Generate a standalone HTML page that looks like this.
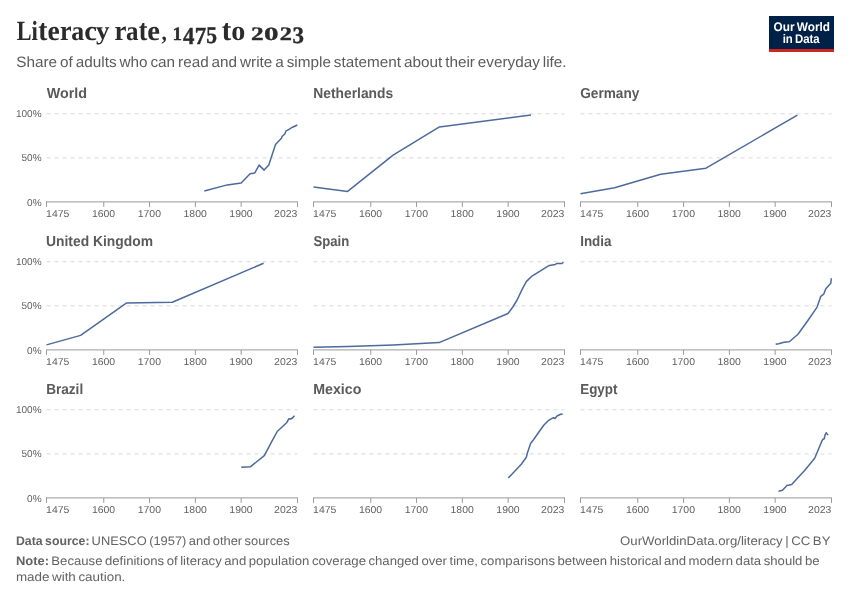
<!DOCTYPE html><html><head><meta charset="utf-8"><title>Literacy rate, 1475 to 2023</title><style>
html,body{margin:0;padding:0;background:#fff;width:850px;height:600px;overflow:hidden}
svg{display:block;will-change:transform}
text{text-rendering:geometricPrecision}
.sans{font-family:"Liberation Sans",sans-serif}
.serif{font-family:"Liberation Serif",serif}
</style></head><body>
<svg width="850" height="600" viewBox="0 0 850 600">
<text class="serif" font-weight="bold" font-size="20.0" fill="#2b2b2b" transform="translate(16.72,40.40) scale(1.1102,1.3893)">L</text>
<text class="serif" font-weight="bold" font-size="20.0" fill="#2b2b2b" transform="translate(31.60,40.40) scale(1.1411,1.3833)">i</text>
<text class="serif" font-weight="bold" font-size="20.0" fill="#2b2b2b" transform="translate(38.36,40.30) scale(1.3738,1.5096)">t</text>
<text class="serif" font-weight="bold" font-size="20.0" fill="#2b2b2b" transform="translate(47.56,40.35) scale(1.3802,1.3987)">e</text>
<text class="serif" font-weight="bold" font-size="20.0" fill="#2b2b2b" transform="translate(59.90,40.35) scale(1.3038,1.4188)">r</text>
<text class="serif" font-weight="bold" font-size="20.0" fill="#2b2b2b" transform="translate(71.37,40.23) scale(1.2914,1.3674)">a</text>
<text class="serif" font-weight="bold" font-size="20.0" fill="#2b2b2b" transform="translate(84.23,40.35) scale(1.4286,1.3958)">c</text>
<text class="serif" font-weight="bold" font-size="20.0" fill="#2b2b2b" transform="translate(96.03,39.00) scale(1.3333,1.2741)">y</text>
<text class="serif" font-weight="bold" font-size="20.0" fill="#2b2b2b" transform="translate(114.48,40.35) scale(1.3418,1.4188)">r</text>
<text class="serif" font-weight="bold" font-size="20.0" fill="#2b2b2b" transform="translate(126.00,40.23) scale(1.2472,1.3674)">a</text>
<text class="serif" font-weight="bold" font-size="20.0" fill="#2b2b2b" transform="translate(138.79,40.30) scale(1.2939,1.5009)">t</text>
<text class="serif" font-weight="bold" font-size="20.0" fill="#2b2b2b" transform="translate(147.33,40.35) scale(1.4323,1.3987)">e</text>
<text class="serif" font-weight="bold" font-size="20.0" fill="#2b2b2b" transform="translate(161.53,40.10) scale(1.0553,1.1921)">,</text>
<text class="serif" font-weight="bold" font-size="20.0" fill="#2b2b2b" transform="translate(221.85,40.30) scale(1.4217,1.5096)">t</text>
<text class="serif" font-weight="bold" font-size="20.0" fill="#2b2b2b" transform="translate(231.23,40.32) scale(1.4033,1.4137)">o</text>
<text class="serif" font-weight="bold" font-size="20.0" fill="#2b2b2b" stroke="#2b2b2b" stroke-width="0.420" stroke-linejoin="round" transform="translate(172.48,40.10) scale(0.9511,0.9545)">1</text>
<text class="serif" font-weight="bold" font-size="20.0" fill="#2b2b2b" stroke="#2b2b2b" stroke-width="0.338" stroke-linejoin="round" transform="translate(182.88,43.60) scale(1.1456,1.2234)">4</text>
<text class="serif" font-weight="bold" font-size="20.0" fill="#2b2b2b" stroke="#2b2b2b" stroke-width="0.337" stroke-linejoin="round" transform="translate(194.79,43.60) scale(1.1456,1.2290)">7</text>
<text class="serif" font-weight="bold" font-size="20.0" fill="#2b2b2b" stroke="#2b2b2b" stroke-width="0.350" stroke-linejoin="round" transform="translate(206.34,43.36) scale(1.0757,1.2105)">5</text>
<text class="serif" font-weight="bold" font-size="20.0" fill="#2b2b2b" stroke="#2b2b2b" stroke-width="0.361" stroke-linejoin="round" transform="translate(251.04,40.10) scale(1.2651,0.9517)">2</text>
<text class="serif" font-weight="bold" font-size="20.0" fill="#2b2b2b" stroke="#2b2b2b" stroke-width="0.336" stroke-linejoin="round" transform="translate(264.00,39.91) scale(1.4505,0.9333)">0</text>
<text class="serif" font-weight="bold" font-size="20.0" fill="#2b2b2b" stroke="#2b2b2b" stroke-width="0.369" stroke-linejoin="round" transform="translate(279.68,40.10) scale(1.2169,0.9517)">2</text>
<text class="serif" font-weight="bold" font-size="20.0" fill="#2b2b2b" stroke="#2b2b2b" stroke-width="0.344" stroke-linejoin="round" transform="translate(292.53,43.16) scale(1.1449,1.1830)">3</text>
<text class="sans" x="16.30" y="67" font-size="15.00" word-spacing="-1.28" fill="#5b5b5b" textLength="550.30" lengthAdjust="spacingAndGlyphs">Share of adults who can read and write a simple statement about their everyday life.</text>
<rect x="769" y="16" width="65" height="33" fill="#002147"/>
<rect x="769" y="49" width="65" height="3" fill="#ce261e"/>
<text class="sans" x="773.52" y="30.7" font-size="12.50" font-weight="bold" word-spacing="-1.06" fill="#ffffff" textLength="56.46" lengthAdjust="spacingAndGlyphs">Our World</text>
<text class="sans" x="782.70" y="42.6" font-size="12.50" font-weight="bold" word-spacing="-1.06" fill="#ffffff" textLength="37.03" lengthAdjust="spacingAndGlyphs">in Data</text>
<text class="sans" x="46.69" y="97.7" font-size="14.50" font-weight="bold" fill="#5a5a5a" textLength="40.25" lengthAdjust="spacingAndGlyphs">World</text>
<line x1="46.5" y1="113.80" x2="297.5" y2="113.80" stroke="#d9d9d9" stroke-width="1" stroke-dasharray="4,4"/>
<line x1="46.5" y1="157.85" x2="297.5" y2="157.85" stroke="#d9d9d9" stroke-width="1" stroke-dasharray="4,4"/>
<line x1="46.0" y1="201.90" x2="298.0" y2="201.90" stroke="#9a9a9a" stroke-width="1"/>
<line x1="46.50" y1="201.90" x2="46.50" y2="206.90" stroke="#9a9a9a" stroke-width="1"/>
<text class="sans" x="46.11" y="216.90" font-size="10.0" fill="#5e5e5e" textLength="23.25" lengthAdjust="spacingAndGlyphs">1475</text>
<line x1="103.75" y1="201.90" x2="103.75" y2="206.90" stroke="#9a9a9a" stroke-width="1"/>
<text class="sans" x="91.94" y="216.90" font-size="10.0" fill="#5e5e5e" textLength="23.25" lengthAdjust="spacingAndGlyphs">1600</text>
<line x1="149.56" y1="201.90" x2="149.56" y2="206.90" stroke="#9a9a9a" stroke-width="1"/>
<text class="sans" x="137.74" y="216.90" font-size="10.0" fill="#5e5e5e" textLength="23.25" lengthAdjust="spacingAndGlyphs">1700</text>
<line x1="195.36" y1="201.90" x2="195.36" y2="206.90" stroke="#9a9a9a" stroke-width="1"/>
<text class="sans" x="183.55" y="216.90" font-size="10.0" fill="#5e5e5e" textLength="23.25" lengthAdjust="spacingAndGlyphs">1800</text>
<line x1="241.16" y1="201.90" x2="241.16" y2="206.90" stroke="#9a9a9a" stroke-width="1"/>
<text class="sans" x="229.35" y="216.90" font-size="10.0" fill="#5e5e5e" textLength="23.25" lengthAdjust="spacingAndGlyphs">1900</text>
<line x1="297.50" y1="201.90" x2="297.50" y2="206.90" stroke="#9a9a9a" stroke-width="1"/>
<text class="sans" x="274.12" y="216.90" font-size="10.0" fill="#5e5e5e" textLength="23.25" lengthAdjust="spacingAndGlyphs">2023</text>
<text class="sans" x="15.98" y="117.40" font-size="10.0" fill="#5e5e5e">100%</text>
<text class="sans" x="21.54" y="161.45" font-size="10.0" fill="#5e5e5e">50%</text>
<text class="sans" x="27.10" y="205.50" font-size="10.0" fill="#5e5e5e">0%</text>
<polyline points="204.3,191.05 227.2,184.9 241.2,182.9 250.1,173.8 254.8,172.9 259.1,165.1 264.1,170.1 268.8,164.9 275.5,144.5 279,140.8 281.5,138.2 282,136.5 284.8,134 285.8,131.2 289,129.3 292.5,127.2 297.3,125" fill="none" stroke="#4c6a9c" stroke-width="1.5" stroke-linejoin="round" stroke-linecap="butt"/>
<text class="sans" x="313.27" y="97.7" font-size="14.50" font-weight="bold" fill="#5a5a5a" textLength="79.90" lengthAdjust="spacingAndGlyphs">Netherlands</text>
<line x1="313.5" y1="113.80" x2="564.5" y2="113.80" stroke="#d9d9d9" stroke-width="1" stroke-dasharray="4,4"/>
<line x1="313.5" y1="157.85" x2="564.5" y2="157.85" stroke="#d9d9d9" stroke-width="1" stroke-dasharray="4,4"/>
<line x1="313.0" y1="201.90" x2="565.0" y2="201.90" stroke="#9a9a9a" stroke-width="1"/>
<line x1="313.50" y1="201.90" x2="313.50" y2="206.90" stroke="#9a9a9a" stroke-width="1"/>
<text class="sans" x="313.11" y="216.90" font-size="10.0" fill="#5e5e5e" textLength="23.25" lengthAdjust="spacingAndGlyphs">1475</text>
<line x1="370.75" y1="201.90" x2="370.75" y2="206.90" stroke="#9a9a9a" stroke-width="1"/>
<text class="sans" x="358.94" y="216.90" font-size="10.0" fill="#5e5e5e" textLength="23.25" lengthAdjust="spacingAndGlyphs">1600</text>
<line x1="416.56" y1="201.90" x2="416.56" y2="206.90" stroke="#9a9a9a" stroke-width="1"/>
<text class="sans" x="404.74" y="216.90" font-size="10.0" fill="#5e5e5e" textLength="23.25" lengthAdjust="spacingAndGlyphs">1700</text>
<line x1="462.36" y1="201.90" x2="462.36" y2="206.90" stroke="#9a9a9a" stroke-width="1"/>
<text class="sans" x="450.55" y="216.90" font-size="10.0" fill="#5e5e5e" textLength="23.25" lengthAdjust="spacingAndGlyphs">1800</text>
<line x1="508.16" y1="201.90" x2="508.16" y2="206.90" stroke="#9a9a9a" stroke-width="1"/>
<text class="sans" x="496.35" y="216.90" font-size="10.0" fill="#5e5e5e" textLength="23.25" lengthAdjust="spacingAndGlyphs">1900</text>
<line x1="564.50" y1="201.90" x2="564.50" y2="206.90" stroke="#9a9a9a" stroke-width="1"/>
<text class="sans" x="541.12" y="216.90" font-size="10.0" fill="#5e5e5e" textLength="23.25" lengthAdjust="spacingAndGlyphs">2023</text>
<polyline points="313.5,186.9 347.6,191.4 393.1,155.2 439.4,126.9 531,114.9" fill="none" stroke="#4c6a9c" stroke-width="1.5" stroke-linejoin="round" stroke-linecap="butt"/>
<text class="sans" x="580.24" y="97.7" font-size="14.50" font-weight="bold" fill="#5a5a5a" textLength="59.13" lengthAdjust="spacingAndGlyphs">Germany</text>
<line x1="580.5" y1="113.80" x2="831.5" y2="113.80" stroke="#d9d9d9" stroke-width="1" stroke-dasharray="4,4"/>
<line x1="580.5" y1="157.85" x2="831.5" y2="157.85" stroke="#d9d9d9" stroke-width="1" stroke-dasharray="4,4"/>
<line x1="580.0" y1="201.90" x2="832.0" y2="201.90" stroke="#9a9a9a" stroke-width="1"/>
<line x1="580.50" y1="201.90" x2="580.50" y2="206.90" stroke="#9a9a9a" stroke-width="1"/>
<text class="sans" x="580.11" y="216.90" font-size="10.0" fill="#5e5e5e" textLength="23.25" lengthAdjust="spacingAndGlyphs">1475</text>
<line x1="637.75" y1="201.90" x2="637.75" y2="206.90" stroke="#9a9a9a" stroke-width="1"/>
<text class="sans" x="625.94" y="216.90" font-size="10.0" fill="#5e5e5e" textLength="23.25" lengthAdjust="spacingAndGlyphs">1600</text>
<line x1="683.56" y1="201.90" x2="683.56" y2="206.90" stroke="#9a9a9a" stroke-width="1"/>
<text class="sans" x="671.74" y="216.90" font-size="10.0" fill="#5e5e5e" textLength="23.25" lengthAdjust="spacingAndGlyphs">1700</text>
<line x1="729.36" y1="201.90" x2="729.36" y2="206.90" stroke="#9a9a9a" stroke-width="1"/>
<text class="sans" x="717.55" y="216.90" font-size="10.0" fill="#5e5e5e" textLength="23.25" lengthAdjust="spacingAndGlyphs">1800</text>
<line x1="775.16" y1="201.90" x2="775.16" y2="206.90" stroke="#9a9a9a" stroke-width="1"/>
<text class="sans" x="763.35" y="216.90" font-size="10.0" fill="#5e5e5e" textLength="23.25" lengthAdjust="spacingAndGlyphs">1900</text>
<line x1="831.50" y1="201.90" x2="831.50" y2="206.90" stroke="#9a9a9a" stroke-width="1"/>
<text class="sans" x="808.12" y="216.90" font-size="10.0" fill="#5e5e5e" textLength="23.25" lengthAdjust="spacingAndGlyphs">2023</text>
<polyline points="580.5,193.8 614.6,187.7 660.7,174.3 706,168.2 797.4,115.1" fill="none" stroke="#4c6a9c" stroke-width="1.5" stroke-linejoin="round" stroke-linecap="butt"/>
<text class="sans" x="46.07" y="245.7" font-size="14.50" font-weight="bold" word-spacing="0.00" fill="#5a5a5a" textLength="106.89" lengthAdjust="spacingAndGlyphs">United Kingdom</text>
<line x1="46.5" y1="261.80" x2="297.5" y2="261.80" stroke="#d9d9d9" stroke-width="1" stroke-dasharray="4,4"/>
<line x1="46.5" y1="305.85" x2="297.5" y2="305.85" stroke="#d9d9d9" stroke-width="1" stroke-dasharray="4,4"/>
<line x1="46.0" y1="349.90" x2="298.0" y2="349.90" stroke="#9a9a9a" stroke-width="1"/>
<line x1="46.50" y1="349.90" x2="46.50" y2="354.90" stroke="#9a9a9a" stroke-width="1"/>
<text class="sans" x="46.11" y="364.90" font-size="10.0" fill="#5e5e5e" textLength="23.25" lengthAdjust="spacingAndGlyphs">1475</text>
<line x1="103.75" y1="349.90" x2="103.75" y2="354.90" stroke="#9a9a9a" stroke-width="1"/>
<text class="sans" x="91.94" y="364.90" font-size="10.0" fill="#5e5e5e" textLength="23.25" lengthAdjust="spacingAndGlyphs">1600</text>
<line x1="149.56" y1="349.90" x2="149.56" y2="354.90" stroke="#9a9a9a" stroke-width="1"/>
<text class="sans" x="137.74" y="364.90" font-size="10.0" fill="#5e5e5e" textLength="23.25" lengthAdjust="spacingAndGlyphs">1700</text>
<line x1="195.36" y1="349.90" x2="195.36" y2="354.90" stroke="#9a9a9a" stroke-width="1"/>
<text class="sans" x="183.55" y="364.90" font-size="10.0" fill="#5e5e5e" textLength="23.25" lengthAdjust="spacingAndGlyphs">1800</text>
<line x1="241.16" y1="349.90" x2="241.16" y2="354.90" stroke="#9a9a9a" stroke-width="1"/>
<text class="sans" x="229.35" y="364.90" font-size="10.0" fill="#5e5e5e" textLength="23.25" lengthAdjust="spacingAndGlyphs">1900</text>
<line x1="297.50" y1="349.90" x2="297.50" y2="354.90" stroke="#9a9a9a" stroke-width="1"/>
<text class="sans" x="274.12" y="364.90" font-size="10.0" fill="#5e5e5e" textLength="23.25" lengthAdjust="spacingAndGlyphs">2023</text>
<text class="sans" x="15.98" y="265.40" font-size="10.0" fill="#5e5e5e">100%</text>
<text class="sans" x="21.54" y="309.45" font-size="10.0" fill="#5e5e5e">50%</text>
<text class="sans" x="27.10" y="353.50" font-size="10.0" fill="#5e5e5e">0%</text>
<polyline points="46.5,344.9 80.6,335.4 126.3,303.1 172.3,302.3 263.6,263.3" fill="none" stroke="#4c6a9c" stroke-width="1.5" stroke-linejoin="round" stroke-linecap="butt"/>
<text class="sans" x="313.52" y="245.7" font-size="14.50" font-weight="bold" fill="#5a5a5a" textLength="35.79" lengthAdjust="spacingAndGlyphs">Spain</text>
<line x1="313.5" y1="261.80" x2="564.5" y2="261.80" stroke="#d9d9d9" stroke-width="1" stroke-dasharray="4,4"/>
<line x1="313.5" y1="305.85" x2="564.5" y2="305.85" stroke="#d9d9d9" stroke-width="1" stroke-dasharray="4,4"/>
<line x1="313.0" y1="349.90" x2="565.0" y2="349.90" stroke="#9a9a9a" stroke-width="1"/>
<line x1="313.50" y1="349.90" x2="313.50" y2="354.90" stroke="#9a9a9a" stroke-width="1"/>
<text class="sans" x="313.11" y="364.90" font-size="10.0" fill="#5e5e5e" textLength="23.25" lengthAdjust="spacingAndGlyphs">1475</text>
<line x1="370.75" y1="349.90" x2="370.75" y2="354.90" stroke="#9a9a9a" stroke-width="1"/>
<text class="sans" x="358.94" y="364.90" font-size="10.0" fill="#5e5e5e" textLength="23.25" lengthAdjust="spacingAndGlyphs">1600</text>
<line x1="416.56" y1="349.90" x2="416.56" y2="354.90" stroke="#9a9a9a" stroke-width="1"/>
<text class="sans" x="404.74" y="364.90" font-size="10.0" fill="#5e5e5e" textLength="23.25" lengthAdjust="spacingAndGlyphs">1700</text>
<line x1="462.36" y1="349.90" x2="462.36" y2="354.90" stroke="#9a9a9a" stroke-width="1"/>
<text class="sans" x="450.55" y="364.90" font-size="10.0" fill="#5e5e5e" textLength="23.25" lengthAdjust="spacingAndGlyphs">1800</text>
<line x1="508.16" y1="349.90" x2="508.16" y2="354.90" stroke="#9a9a9a" stroke-width="1"/>
<text class="sans" x="496.35" y="364.90" font-size="10.0" fill="#5e5e5e" textLength="23.25" lengthAdjust="spacingAndGlyphs">1900</text>
<line x1="564.50" y1="349.90" x2="564.50" y2="354.90" stroke="#9a9a9a" stroke-width="1"/>
<text class="sans" x="541.12" y="364.90" font-size="10.0" fill="#5e5e5e" textLength="23.25" lengthAdjust="spacingAndGlyphs">2023</text>
<polyline points="313.5,347.2 347.9,346.6 393.3,345.1 439.1,342.6 508,313.5 512.8,307 517.1,300 522.5,288.6 526.3,281.6 531.2,276.7 538.8,271.8 549.3,265.4 555.4,264.4 556.6,263.5 562,263.5 563.4,262.3" fill="none" stroke="#4c6a9c" stroke-width="1.5" stroke-linejoin="round" stroke-linecap="butt"/>
<text class="sans" x="580.20" y="245.7" font-size="14.50" font-weight="bold" fill="#5a5a5a" textLength="31.33" lengthAdjust="spacingAndGlyphs">India</text>
<line x1="580.5" y1="261.80" x2="831.5" y2="261.80" stroke="#d9d9d9" stroke-width="1" stroke-dasharray="4,4"/>
<line x1="580.5" y1="305.85" x2="831.5" y2="305.85" stroke="#d9d9d9" stroke-width="1" stroke-dasharray="4,4"/>
<line x1="580.0" y1="349.90" x2="832.0" y2="349.90" stroke="#9a9a9a" stroke-width="1"/>
<line x1="580.50" y1="349.90" x2="580.50" y2="354.90" stroke="#9a9a9a" stroke-width="1"/>
<text class="sans" x="580.11" y="364.90" font-size="10.0" fill="#5e5e5e" textLength="23.25" lengthAdjust="spacingAndGlyphs">1475</text>
<line x1="637.75" y1="349.90" x2="637.75" y2="354.90" stroke="#9a9a9a" stroke-width="1"/>
<text class="sans" x="625.94" y="364.90" font-size="10.0" fill="#5e5e5e" textLength="23.25" lengthAdjust="spacingAndGlyphs">1600</text>
<line x1="683.56" y1="349.90" x2="683.56" y2="354.90" stroke="#9a9a9a" stroke-width="1"/>
<text class="sans" x="671.74" y="364.90" font-size="10.0" fill="#5e5e5e" textLength="23.25" lengthAdjust="spacingAndGlyphs">1700</text>
<line x1="729.36" y1="349.90" x2="729.36" y2="354.90" stroke="#9a9a9a" stroke-width="1"/>
<text class="sans" x="717.55" y="364.90" font-size="10.0" fill="#5e5e5e" textLength="23.25" lengthAdjust="spacingAndGlyphs">1800</text>
<line x1="775.16" y1="349.90" x2="775.16" y2="354.90" stroke="#9a9a9a" stroke-width="1"/>
<text class="sans" x="763.35" y="364.90" font-size="10.0" fill="#5e5e5e" textLength="23.25" lengthAdjust="spacingAndGlyphs">1900</text>
<line x1="831.50" y1="349.90" x2="831.50" y2="354.90" stroke="#9a9a9a" stroke-width="1"/>
<text class="sans" x="808.12" y="364.90" font-size="10.0" fill="#5e5e5e" textLength="23.25" lengthAdjust="spacingAndGlyphs">2023</text>
<polyline points="775.7,344.3 778.7,343.7 784,342.2 789.3,341.7 798,334.3 807.9,320.5 817.1,307.1 820.8,296.3 823.7,294.2 825.8,288.8 830.8,283.3 831.3,278.3" fill="none" stroke="#4c6a9c" stroke-width="1.5" stroke-linejoin="round" stroke-linecap="butt"/>
<text class="sans" x="46.19" y="393.7" font-size="14.50" font-weight="bold" fill="#5a5a5a" textLength="36.98" lengthAdjust="spacingAndGlyphs">Brazil</text>
<line x1="46.5" y1="409.80" x2="297.5" y2="409.80" stroke="#d9d9d9" stroke-width="1" stroke-dasharray="4,4"/>
<line x1="46.5" y1="453.85" x2="297.5" y2="453.85" stroke="#d9d9d9" stroke-width="1" stroke-dasharray="4,4"/>
<line x1="46.0" y1="497.90" x2="298.0" y2="497.90" stroke="#9a9a9a" stroke-width="1"/>
<line x1="46.50" y1="497.90" x2="46.50" y2="502.90" stroke="#9a9a9a" stroke-width="1"/>
<text class="sans" x="46.11" y="512.90" font-size="10.0" fill="#5e5e5e" textLength="23.25" lengthAdjust="spacingAndGlyphs">1475</text>
<line x1="103.75" y1="497.90" x2="103.75" y2="502.90" stroke="#9a9a9a" stroke-width="1"/>
<text class="sans" x="91.94" y="512.90" font-size="10.0" fill="#5e5e5e" textLength="23.25" lengthAdjust="spacingAndGlyphs">1600</text>
<line x1="149.56" y1="497.90" x2="149.56" y2="502.90" stroke="#9a9a9a" stroke-width="1"/>
<text class="sans" x="137.74" y="512.90" font-size="10.0" fill="#5e5e5e" textLength="23.25" lengthAdjust="spacingAndGlyphs">1700</text>
<line x1="195.36" y1="497.90" x2="195.36" y2="502.90" stroke="#9a9a9a" stroke-width="1"/>
<text class="sans" x="183.55" y="512.90" font-size="10.0" fill="#5e5e5e" textLength="23.25" lengthAdjust="spacingAndGlyphs">1800</text>
<line x1="241.16" y1="497.90" x2="241.16" y2="502.90" stroke="#9a9a9a" stroke-width="1"/>
<text class="sans" x="229.35" y="512.90" font-size="10.0" fill="#5e5e5e" textLength="23.25" lengthAdjust="spacingAndGlyphs">1900</text>
<line x1="297.50" y1="497.90" x2="297.50" y2="502.90" stroke="#9a9a9a" stroke-width="1"/>
<text class="sans" x="274.12" y="512.90" font-size="10.0" fill="#5e5e5e" textLength="23.25" lengthAdjust="spacingAndGlyphs">2023</text>
<text class="sans" x="15.98" y="413.40" font-size="10.0" fill="#5e5e5e">100%</text>
<text class="sans" x="21.54" y="457.45" font-size="10.0" fill="#5e5e5e">50%</text>
<text class="sans" x="27.10" y="501.50" font-size="10.0" fill="#5e5e5e">0%</text>
<polyline points="241.25,467.2 250.3,466.8 264.3,455.6 272.9,439.4 277.25,431.5 286.6,422.8 288.9,418.7 290.7,419 292.4,418 294.5,415.8" fill="none" stroke="#4c6a9c" stroke-width="1.5" stroke-linejoin="round" stroke-linecap="butt"/>
<text class="sans" x="313.25" y="393.7" font-size="14.50" font-weight="bold" fill="#5a5a5a" textLength="48.11" lengthAdjust="spacingAndGlyphs">Mexico</text>
<line x1="313.5" y1="409.80" x2="564.5" y2="409.80" stroke="#d9d9d9" stroke-width="1" stroke-dasharray="4,4"/>
<line x1="313.5" y1="453.85" x2="564.5" y2="453.85" stroke="#d9d9d9" stroke-width="1" stroke-dasharray="4,4"/>
<line x1="313.0" y1="497.90" x2="565.0" y2="497.90" stroke="#9a9a9a" stroke-width="1"/>
<line x1="313.50" y1="497.90" x2="313.50" y2="502.90" stroke="#9a9a9a" stroke-width="1"/>
<text class="sans" x="313.11" y="512.90" font-size="10.0" fill="#5e5e5e" textLength="23.25" lengthAdjust="spacingAndGlyphs">1475</text>
<line x1="370.75" y1="497.90" x2="370.75" y2="502.90" stroke="#9a9a9a" stroke-width="1"/>
<text class="sans" x="358.94" y="512.90" font-size="10.0" fill="#5e5e5e" textLength="23.25" lengthAdjust="spacingAndGlyphs">1600</text>
<line x1="416.56" y1="497.90" x2="416.56" y2="502.90" stroke="#9a9a9a" stroke-width="1"/>
<text class="sans" x="404.74" y="512.90" font-size="10.0" fill="#5e5e5e" textLength="23.25" lengthAdjust="spacingAndGlyphs">1700</text>
<line x1="462.36" y1="497.90" x2="462.36" y2="502.90" stroke="#9a9a9a" stroke-width="1"/>
<text class="sans" x="450.55" y="512.90" font-size="10.0" fill="#5e5e5e" textLength="23.25" lengthAdjust="spacingAndGlyphs">1800</text>
<line x1="508.16" y1="497.90" x2="508.16" y2="502.90" stroke="#9a9a9a" stroke-width="1"/>
<text class="sans" x="496.35" y="512.90" font-size="10.0" fill="#5e5e5e" textLength="23.25" lengthAdjust="spacingAndGlyphs">1900</text>
<line x1="564.50" y1="497.90" x2="564.50" y2="502.90" stroke="#9a9a9a" stroke-width="1"/>
<text class="sans" x="541.12" y="512.90" font-size="10.0" fill="#5e5e5e" textLength="23.25" lengthAdjust="spacingAndGlyphs">2023</text>
<polyline points="508.3,477.9 521.3,464.3 526.3,457.3 527.3,453.3 530.7,443.3 533.3,440 543.7,425.3 548.7,420.3 553.3,417.7 555,418.5 557,416 560.7,414.3 562.7,414" fill="none" stroke="#4c6a9c" stroke-width="1.5" stroke-linejoin="round" stroke-linecap="butt"/>
<text class="sans" x="580.20" y="393.7" font-size="14.50" font-weight="bold" fill="#5a5a5a" textLength="37.26" lengthAdjust="spacingAndGlyphs">Egypt</text>
<line x1="580.5" y1="409.80" x2="831.5" y2="409.80" stroke="#d9d9d9" stroke-width="1" stroke-dasharray="4,4"/>
<line x1="580.5" y1="453.85" x2="831.5" y2="453.85" stroke="#d9d9d9" stroke-width="1" stroke-dasharray="4,4"/>
<line x1="580.0" y1="497.90" x2="832.0" y2="497.90" stroke="#9a9a9a" stroke-width="1"/>
<line x1="580.50" y1="497.90" x2="580.50" y2="502.90" stroke="#9a9a9a" stroke-width="1"/>
<text class="sans" x="580.11" y="512.90" font-size="10.0" fill="#5e5e5e" textLength="23.25" lengthAdjust="spacingAndGlyphs">1475</text>
<line x1="637.75" y1="497.90" x2="637.75" y2="502.90" stroke="#9a9a9a" stroke-width="1"/>
<text class="sans" x="625.94" y="512.90" font-size="10.0" fill="#5e5e5e" textLength="23.25" lengthAdjust="spacingAndGlyphs">1600</text>
<line x1="683.56" y1="497.90" x2="683.56" y2="502.90" stroke="#9a9a9a" stroke-width="1"/>
<text class="sans" x="671.74" y="512.90" font-size="10.0" fill="#5e5e5e" textLength="23.25" lengthAdjust="spacingAndGlyphs">1700</text>
<line x1="729.36" y1="497.90" x2="729.36" y2="502.90" stroke="#9a9a9a" stroke-width="1"/>
<text class="sans" x="717.55" y="512.90" font-size="10.0" fill="#5e5e5e" textLength="23.25" lengthAdjust="spacingAndGlyphs">1800</text>
<line x1="775.16" y1="497.90" x2="775.16" y2="502.90" stroke="#9a9a9a" stroke-width="1"/>
<text class="sans" x="763.35" y="512.90" font-size="10.0" fill="#5e5e5e" textLength="23.25" lengthAdjust="spacingAndGlyphs">1900</text>
<line x1="831.50" y1="497.90" x2="831.50" y2="502.90" stroke="#9a9a9a" stroke-width="1"/>
<text class="sans" x="808.12" y="512.90" font-size="10.0" fill="#5e5e5e" textLength="23.25" lengthAdjust="spacingAndGlyphs">2023</text>
<polyline points="778.5,491.25 782.5,490.2 786.9,485.4 791.7,484.6 804.6,470.4 814.7,458.3 817.3,452 822,440.7 823,439.3 824.3,438.7 825,435 826.3,432.7 827,434 828.3,435" fill="none" stroke="#4c6a9c" stroke-width="1.5" stroke-linejoin="round" stroke-linecap="butt"/>
<text class="sans" x="15.97" y="544.8" font-size="12.40" font-weight="bold" word-spacing="-1.05" fill="#636363" textLength="73.60" lengthAdjust="spacingAndGlyphs">Data source:</text>
<text class="sans" x="91.61" y="544.8" font-size="12.40" word-spacing="-1.05" fill="#636363" textLength="198.05" lengthAdjust="spacingAndGlyphs">UNESCO (1957) and other sources</text>
<text class="sans" x="620.08" y="544.8" font-size="12.40" word-spacing="-1.05" fill="#636363" textLength="210.41" lengthAdjust="spacingAndGlyphs">OurWorldinData.org/literacy | CC BY</text>
<text class="sans" x="15.93" y="565.0" font-size="12.40" font-weight="bold" fill="#636363" textLength="33.12" lengthAdjust="spacingAndGlyphs">Note:</text>
<text class="sans" x="51.32" y="565.0" font-size="12.40" word-spacing="-1.05" fill="#636363" textLength="768.26" lengthAdjust="spacingAndGlyphs">Because definitions of literacy and population coverage changed over time, comparisons between historical and modern data should be</text>
<text class="sans" x="15.92" y="580.5" font-size="12.40" word-spacing="-1.05" fill="#636363" textLength="109.40" lengthAdjust="spacingAndGlyphs">made with caution.</text>
</svg></body></html>
